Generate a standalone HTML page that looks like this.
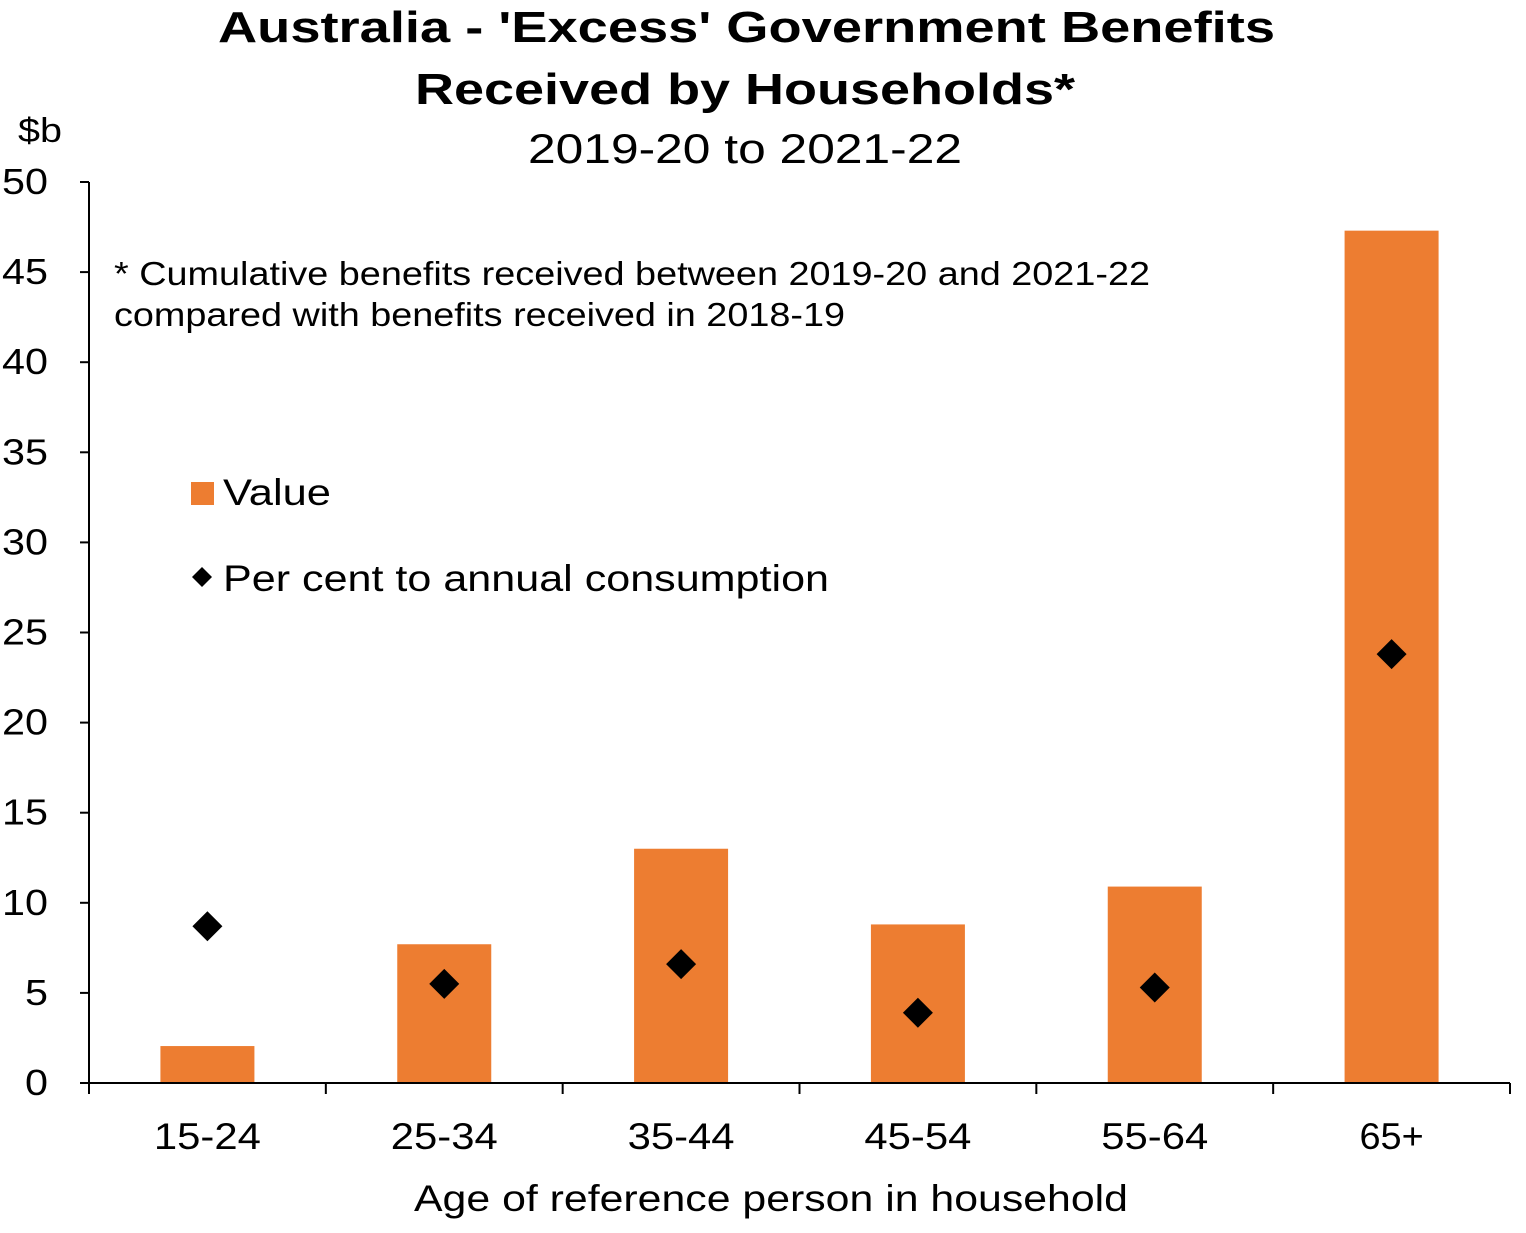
<!DOCTYPE html>
<html><head><meta charset="utf-8"><style>
body{margin:0;background:#fff;}
svg text{font-family:"Liberation Sans",Arial,sans-serif;fill:#000;}
</style></head><body>
<svg id="chart" width="1526" height="1228" xmlns="http://www.w3.org/2000/svg">
<text x="218" y="42" font-size="44" font-weight="bold" textLength="1057" lengthAdjust="spacingAndGlyphs">Australia - 'Excess' Government Benefits</text>
<text x="415" y="104" font-size="44" font-weight="bold" textLength="660" lengthAdjust="spacingAndGlyphs">Received by Households*</text>
<text x="528" y="163" font-size="42" textLength="434" lengthAdjust="spacingAndGlyphs">2019-20 to 2021-22</text>
<text x="18" y="142" font-size="34" textLength="44" lengthAdjust="spacingAndGlyphs">$b</text>
<text x="114" y="285" font-size="33" textLength="1036" lengthAdjust="spacingAndGlyphs">* Cumulative benefits received between 2019-20 and 2021-22</text>
<text x="114" y="326" font-size="33" textLength="731" lengthAdjust="spacingAndGlyphs">compared with benefits received in 2018-19</text>
<g>
<rect x="191" y="482" width="23" height="23" fill="#ED7D31"/>
<text x="223" y="505" font-size="37" textLength="108" lengthAdjust="spacingAndGlyphs">Value</text>
<path d="M202 567 L212 577 L202 587 L192 577 Z" fill="#000"/>
<text x="223" y="591" font-size="37" textLength="606" lengthAdjust="spacingAndGlyphs">Per cent to annual consumption</text>
</g>
<g id="plot"></g>
<text x="414" y="1211" font-size="37" textLength="714" lengthAdjust="spacingAndGlyphs">Age of reference person in household</text>
</svg>
<script>
const categories=["15-24","25-34","35-44","45-54","55-64","65+"];
const valueSeries=[2.05,7.7,13.0,8.8,10.9,47.3];
const percentSeries=[8.7,5.5,6.6,3.9,5.3,23.8];
const yTicks=[0,5,10,15,20,25,30,35,40,45,50];
const NS="http://www.w3.org/2000/svg";
const x0=89,x1=1510,yBase=1083,yTop=182,yMax=50;
const bw=(x1-x0)/categories.length;
const y=v=>yBase-(v/yMax)*(yBase-yTop);
const xc=i=>x0+bw*(i+0.5);
const g=document.getElementById('plot');
function mk(t,a){const e=document.createElementNS(NS,t);for(const k in a)e.setAttribute(k,a[k]);g.appendChild(e);return e;}
valueSeries.forEach((v,i)=>{
 const r=mk('rect',{x:xc(i)-47,y:y(v),width:94,height:yBase-y(v),fill:'#ED7D31'});
 
 
});
percentSeries.forEach((v,i)=>{
 const cx=xc(i),cy=y(v);
 const p=mk('path',{d:`M${cx} ${cy-15} L${cx+15} ${cy} L${cx} ${cy+15} L${cx-15} ${cy} Z`,fill:'#000'});
 
 
});
const ya=mk('line',{x1:x0,y1:yTop,x2:x0,y2:yBase,stroke:'#000','stroke-width':2});


yTicks.forEach(t=>{
 const l=mk('line',{x1:x0-9,y1:y(t),x2:x0,y2:y(t),stroke:'#000','stroke-width':2});
 
 
 const s=String(t);
 const w=s.length*23;
 const tx=mk('text',{x:48-w,y:y(t)+12,'font-size':36,textLength:w,lengthAdjust:'spacingAndGlyphs'});
 tx.textContent=t;
 
 
});
const xa=mk('line',{x1:x0,y1:yBase,x2:x1,y2:yBase,stroke:'#000','stroke-width':2});


for(let i=0;i<=categories.length;i++){
 const l=mk('line',{x1:x0+bw*i,y1:yBase,x2:x0+bw*i,y2:yBase+11,stroke:'#000','stroke-width':2});
 
 
}
categories.forEach((c,i)=>{
 const w=c.length*21.4;
 const tx=mk('text',{x:xc(i)-w/2,y:1149,'font-size':37,textLength:w,lengthAdjust:'spacingAndGlyphs'});
 tx.textContent=c;
 
 
});
</script>
</body></html>
